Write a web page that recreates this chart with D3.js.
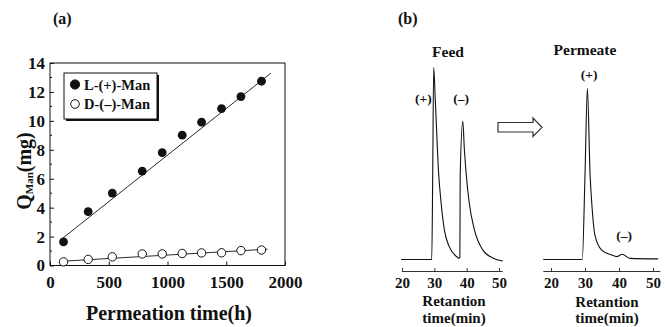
<!DOCTYPE html>
<html>
<head>
<meta charset="utf-8">
<script src="https://cdn.jsdelivr.net/npm/d3@7"></script>
<style>
  html, body { margin: 0; padding: 0; background: #fff; }
  svg text { font-family: "Liberation Serif", "Times New Roman", serif; font-weight: bold; fill: #111; }
</style>
</head>
<body>
<svg id="chart" width="665" height="327"></svg>
<script>
// (a) permeated amount of each enantiomer vs permeation time
const permTime = [115, 325, 530, 785, 955, 1125, 1290, 1460, 1625, 1800];
const qL = [1.63, 3.72, 5.01, 6.53, 7.81, 9.01, 9.91, 10.85, 11.68, 12.74];
const qD = [0.25, 0.42, 0.6, 0.8, 0.8, 0.83, 0.87, 0.88, 1.03, 1.07];
const fitL = [[110, 1.9], [1880, 13.3]];
const fitD = [[115, 0.3], [1850, 1.13]];
const xTicksA = [0, 500, 1000, 1500, 2000];
const yTicksA = [0, 2, 4, 6, 8, 10, 12, 14];
const legendLabels = ["L-(+)-Man", "D-(–)-Man"];

// (b) chromatograms, feed and permeate (signal in % of feed (+) peak)
const feedTime = [19.7, 29.2, 29.5, 29.8, 30.3, 31.3, 32.1, 33.1, 34.6, 37.2, 37.6, 37.9, 38.0, 38.8, 39.3, 39.8, 40.8, 42.4, 45.0, 48.1, 51.2];
const feedSignal = [0, 0, 44, 100, 83, 45.6, 29.4, 15.4, 6.7, 1.1, 0.6, 1, 44, 72, 57, 45.6, 29.4, 15.4, 4.9, 0.8, -0.8];
const permeateTime = [17.7, 29.2, 30.0, 30.7, 31.5, 32.1, 32.9, 34.9, 37.9, 39.3, 41.0, 43.2, 51.5];
const permeateSignal = [0, 0, 44, 89.2, 44, 26.7, 12.8, 4.9, 2.3, 1.5, 2.7, 0.6, 0.3];
const retTicks = [20, 30, 40, 50];

const svg = d3.select("#chart");
const INK = "#111";

////////////////////////////////////////////////////////////////////////////////////
// panel (a)

const x = d3.scaleLinear().domain([0, 2000]).range([50, 285]);
const y = d3.scaleLinear().domain([0, 14]).range([265.5, 63]);

svg.append("text").attr("x", 53).attr("y", 24).attr("font-size", 16).text("(a)");

svg.append("rect")
  .attr("x", x(0)).attr("y", y(14))
  .attr("width", x(2000) - x(0)).attr("height", y(0) - y(14))
  .attr("fill", "none").attr("stroke", INK).attr("stroke-width", 1);

const xAxis = svg.append("g")
  .attr("transform", `translate(0,${y(0)})`)
  .call(d3.axisBottom(x).tickValues(xTicksA).tickFormat(d3.format("d")).tickSize(-4).tickSizeOuter(0).tickPadding(10));
const yAxis = svg.append("g")
  .attr("transform", `translate(${x(0)},0)`)
  .call(d3.axisLeft(y).tickValues(yTicksA).tickSize(-4).tickSizeOuter(0).tickPadding(5));

// minor ticks on the y axis
svg.append("g")
  .selectAll("line")
  .data(d3.range(1, 14, 2))
  .enter()
  .append("line")
  .attr("x1", x(0)).attr("x2", x(0) + 2)
  .attr("y1", (d) => y(d)).attr("y2", (d) => y(d))
  .attr("stroke", INK);

[xAxis, yAxis].forEach((g) => {
  g.attr("font-size", 17).attr("font-family", null);
  g.select(".domain").remove();
  g.selectAll("line").attr("stroke", INK);
  g.selectAll("text").attr("fill", INK);
});

const fitLine = d3.line().x((d) => x(d[0])).y((d) => y(d[1]));
svg.append("path").attr("d", fitLine(fitL)).attr("fill", "none").attr("stroke", INK).attr("stroke-width", 0.9);
svg.append("path").attr("d", fitLine(fitD)).attr("fill", "none").attr("stroke", INK).attr("stroke-width", 0.9);

svg.append("g")
  .selectAll("circle")
  .data(permTime)
  .enter()
  .append("circle")
  .attr("cx", (d) => x(d))
  .attr("cy", (d, i) => y(qL[i]))
  .attr("r", 4.4)
  .attr("fill", INK);

svg.append("g")
  .selectAll("circle")
  .data(permTime)
  .enter()
  .append("circle")
  .attr("cx", (d) => x(d))
  .attr("cy", (d, i) => y(qD[i]))
  .attr("r", 4.2)
  .attr("fill", "#fff")
  .attr("stroke", INK)
  .attr("stroke-width", 1);

// legend with drop shadow
const legend = svg.append("g").attr("transform", "translate(64,73)");
legend.append("rect").attr("x", 2).attr("y", 2).attr("width", 93).attr("height", 46).attr("fill", INK);
legend.append("rect").attr("width", 93).attr("height", 46).attr("fill", "#fff").attr("stroke", INK).attr("stroke-width", 1);
const legendRows = legend.selectAll("g.row")
  .data(legendLabels)
  .enter()
  .append("g")
  .attr("class", "row")
  .attr("transform", (d, i) => `translate(0,${11.5 + i * 19.5})`);
legendRows.append("circle")
  .attr("cx", 11).attr("r", (d, i) => (i === 0 ? 4.6 : 4.3))
  .attr("fill", (d, i) => (i === 0 ? INK : "#fff"))
  .attr("stroke", INK);
legendRows.append("text").attr("x", 20).attr("y", 5).attr("font-size", 14.5).text((d) => d);

svg.append("text")
  .attr("x", 169).attr("y", 320)
  .attr("text-anchor", "middle")
  .attr("font-size", 20)
  .text("Permeation time(h)");

const yLabel = svg.append("text")
  .attr("transform", "translate(31,171) rotate(-90)")
  .attr("text-anchor", "middle")
  .attr("font-size", 20);
yLabel.append("tspan").text("Q");
yLabel.append("tspan").attr("font-size", 11).attr("dy", 2).text("Man");
yLabel.append("tspan").attr("dy", -2).text("(mg)");

////////////////////////////////////////////////////////////////////////////////////
// panel (b)

svg.append("text").attr("x", 398).attr("y", 24).attr("font-size", 16).text("(b)");

const ySig = d3.scaleLinear().domain([0, 100]).range([259.5, 67.5]);
const xFeed = d3.scaleLinear().domain([20, 50]).range([402, 499]);
const xPerm = d3.scaleLinear().domain([20, 50]).range([551, 653]);

function drawTrace(xs, times, signal) {
  const line = d3.line()
    .x((d) => xs(d))
    .y((d, i) => ySig(signal[i]))
    .curve(d3.curveMonotoneX);
  svg.append("path")
    .attr("d", line(times))
    .attr("fill", "none")
    .attr("stroke", INK)
    .attr("stroke-width", 1.1);
}

function drawRetAxis(xs, lo, hi) {
  // axis line reaches a little past the labelled range
  const s = d3.scaleLinear().domain([lo, hi]).range([xs(lo), xs(hi)]);
  const g = svg.append("g")
    .attr("transform", "translate(0,271)")
    .call(d3.axisBottom(s).tickValues(retTicks).tickSize(-3).tickSizeOuter(0).tickPadding(6));
  g.attr("font-size", 15).attr("font-family", null);
  g.select(".domain").attr("stroke", "#333");
  g.selectAll("line").attr("stroke", "#333");
  g.selectAll("text").attr("fill", INK);
}

drawTrace(xFeed, feedTime, feedSignal);
drawTrace(xPerm, permeateTime, permeateSignal);
drawRetAxis(xFeed, 19.8, 51);
drawRetAxis(xPerm, 17.6, 52);

function label(txt, px, py, size) {
  svg.append("text")
    .attr("x", px).attr("y", py)
    .attr("text-anchor", "middle")
    .attr("font-size", size)
    .text(txt);
}

label("Feed", 448, 57, 15.5);
label("Permeate", 585, 55, 15.5);
label("(+)", xFeed(26.6), 103, 13.5);
label("(–)", xFeed(38.3), 103, 13.5);
label("(+)", xPerm(31.2), 79, 13.5);
label("(–)", xPerm(41.5), 240, 13.5);

label("Retantion", 454, 306, 15);
label("time(min)", 454, 322.5, 15);
label("Retantion", 607, 306.5, 15);
label("time(min)", 607, 323, 15);

// hollow arrow from feed to permeate
const arrowPts = [[0, 4.5], [35, 4.5], [35, 0], [44, 9.3], [35, 18.5], [35, 14], [0, 14]];
svg.append("polygon")
  .attr("transform", "translate(498,118)")
  .attr("points", arrowPts.map((p) => p.join(",")).join(" "))
  .attr("fill", "#fff")
  .attr("stroke", "#333")
  .attr("stroke-width", 1.2)
  .attr("stroke-linejoin", "miter");
</script>
</body>
</html>
